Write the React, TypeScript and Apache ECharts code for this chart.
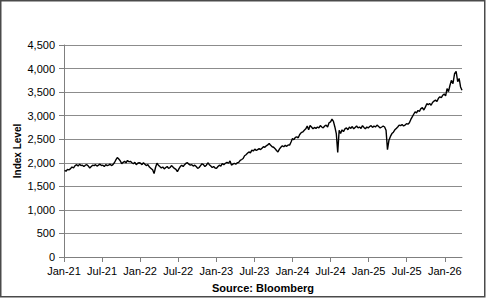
import React, { useEffect, useRef } from "react";
import * as echarts from "echarts";

// Weekly index levels, starting the week of 4 Jan 2021
const startDate = "2021-01-04";
const y2021 = [1840, 1820, 1860, 1850, 1870, 1910, 1890, 1940, 1960, 1930, 1970, 1940, 1950, 1920, 1950, 1960, 1930, 1890, 1920, 1950, 1940, 1960, 1930, 1950, 1970, 1940, 1950, 1920, 1960, 1940, 1950, 1970, 1940, 1960, 2000, 2060, 2110, 2080, 2040, 1980, 2010, 2030, 2000, 2050, 2020, 2030, 2000, 1980, 2010, 1960, 1990, 2000];
const y2022 = [1990, 1960, 2000, 1970, 1940, 1960, 1910, 1880, 1850, 1770, 1900, 1990, 1950, 1920, 1890, 1910, 1870, 1900, 1920, 1880, 1900, 1940, 1910, 1880, 1860, 1810, 1870, 1920, 1950, 1920, 1960, 1990, 2000, 1970, 1950, 1960, 1930, 1950, 1920, 1880, 1900, 1940, 1980, 1960, 1920, 1950, 2000, 1960, 1930, 1900, 1920, 1890];
const y2023 = [1880, 1920, 1950, 1930, 1985, 1960, 1990, 2010, 1990, 2040, 1950, 1970, 1990, 1970, 2000, 2010, 2050, 2070, 2090, 2150, 2170, 2200, 2230, 2210, 2270, 2250, 2290, 2260, 2280, 2300, 2280, 2310, 2340, 2330, 2360, 2380, 2410, 2370, 2340, 2330, 2300, 2260, 2230, 2290, 2330, 2360, 2340, 2370, 2350, 2380, 2375, 2440];
const y2024 = [2515, 2490, 2540, 2550, 2530, 2600, 2640, 2655, 2690, 2720, 2780, 2700, 2790, 2760, 2720, 2750, 2730, 2760, 2740, 2790, 2760, 2740, 2780, 2800, 2760, 2850, 2870, 2925, 2880, 2760, 2620, 2220, 2690, 2620, 2700, 2660, 2720, 2740, 2700, 2760, 2730, 2770, 2720, 2750, 2780, 2740, 2760, 2730, 2790, 2750, 2720, 2760];
const y2025 = [2740, 2770, 2790, 2750, 2780, 2760, 2800, 2770, 2740, 2760, 2780, 2760, 2690, 2280, 2480, 2560, 2620, 2650, 2700, 2730, 2760, 2800, 2790, 2810, 2780, 2800, 2830, 2820, 2850, 2920, 2975, 3030, 3080, 3060, 3110, 3090, 3150, 3170, 3120, 3180, 3255, 3230, 3260, 3220, 3280, 3310, 3330, 3300, 3370, 3400, 3380, 3435];
const y2026 = [3460, 3420, 3575, 3510, 3640, 3750, 3680, 3890, 3940, 3720, 3790, 3610, 3540];

const yTicks = [0, 500, 1000, 1500, 2000, 2500, 3000, 3500, 4000, 4500];
const xTickMonths = [0, 6, 12, 18, 24, 30, 36, 42, 48, 54, 60];
const monthNames = ["Jan", "Feb", "Mar", "Apr", "May", "Jun", "Jul", "Aug", "Sep", "Oct", "Nov", "Dec"];

const values = [...y2021, ...y2022, ...y2023, ...y2024, ...y2025, ...y2026];

function monthIndex(d: Date): number {
  const y = d.getUTCFullYear();
  const m = d.getUTCMonth();
  const dim = new Date(Date.UTC(y, m + 1, 0)).getUTCDate();
  return (y - 2021) * 12 + m + (d.getUTCDate() - 1) / dim;
}

const start = new Date(startDate + "T00:00:00Z");
const seriesData = values.map((v, i) => {
  const d = new Date(start.getTime() + i * 7 * 86400000);
  return [monthIndex(d), v];
});
const xMax = seriesData[seriesData.length - 1][0] as number;

const fmtMonth = (v: number) => {
  const y = 21 + Math.floor(v / 12);
  return `${monthNames[Math.round(v) % 12]}-${y}`;
};

export default function App() {
  const ref = useRef<HTMLDivElement>(null);
  useEffect(() => {
    if (!ref.current) return;
    const chart = echarts.init(ref.current, null, { renderer: "svg" });
    const font = "'Liberation Sans', Arial, sans-serif";
    chart.setOption({
      animation: false,
      backgroundColor: "#ffffff",
      textStyle: { fontFamily: font },
      grid: {
        left: 64,
        right: 489 - 462,
        top: 45,
        bottom: 298 - 257,
        containLabel: false,
        outerBoundsMode: "none",
      },
      graphic: [
        {
          type: "rect",
          shape: { x: 0.75, y: 0.75, width: 484, height: 296 },
          style: { fill: "none", stroke: "#4a4a4a", lineWidth: 1.5 },
          silent: true,
        },
      ],
      xAxis: {
        type: "value",
        min: 0,
        max: xMax,
        interval: 6,
        name: "Source: Bloomberg",
        nameLocation: "middle",
        nameGap: 25,
        nameMoveOverlap: false,
        nameTextStyle: { fontFamily: font, fontSize: 11, fontWeight: "bold", color: "#000" },
        axisLine: { show: true, lineStyle: { color: "#7f7f7f", width: 1 } },
        axisTick: { show: true, length: 5, inside: false, customValues: xTickMonths, lineStyle: { color: "#7f7f7f" } },
        axisLabel: {
          customValues: xTickMonths,
          formatter: (v: number) => fmtMonth(v),
          fontFamily: font,
          fontSize: 11,
          color: "#000",
          margin: 8,
          showMaxLabel: true,
          showMinLabel: true,
        },
        splitLine: { show: false },
      },
      yAxis: {
        type: "value",
        min: yTicks[0],
        max: yTicks[yTicks.length - 1],
        interval: 500,
        name: "Index Level",
        nameLocation: "middle",
        nameGap: 42,
        nameMoveOverlap: false,
        nameTextStyle: { fontFamily: font, fontSize: 10, fontWeight: "bold", color: "#000" },
        axisLine: { show: true, lineStyle: { color: "#7f7f7f", width: 1 } },
        axisTick: { show: true, length: 5, lineStyle: { color: "#7f7f7f" } },
        axisLabel: {
          formatter: (v: number) => v.toLocaleString("en-US"),
          fontFamily: font,
          fontSize: 11,
          color: "#000",
          margin: 9,
        },
        splitLine: { show: true, lineStyle: { color: "#8c8c8c", width: 1 } },
      },
      series: [
        {
          type: "line",
          data: seriesData,
          showSymbol: false,
          symbol: "none",
          lineStyle: { color: "#000", width: 1.4 },
        },
      ],
    });
    return () => chart.dispose();
  }, []);
  return (
    <div
      ref={ref}
      style={{ position: "fixed", left: 0, top: 0, width: 489, height: 298, background: "#fff" }}
    />
  );
}
